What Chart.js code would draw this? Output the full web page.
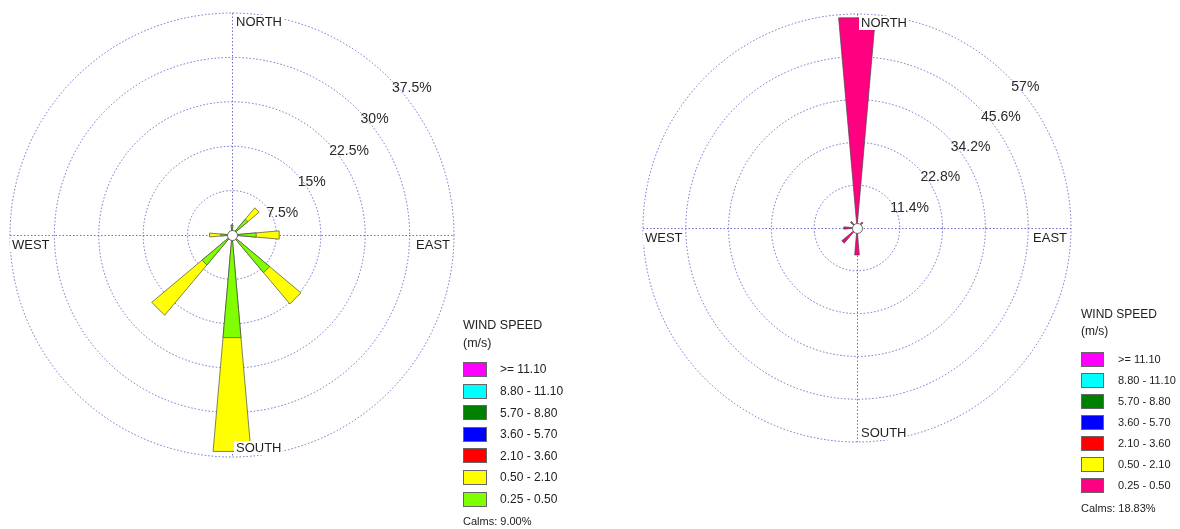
<!DOCTYPE html>
<html>
<head>
<meta charset="utf-8">
<script src="https://cdn.jsdelivr.net/npm/chart.js@4.4.1/dist/chart.umd.min.js"></script>
<style>
  body { margin: 0; width: 1180px; height: 529px; background: #fff; position: relative; overflow: hidden;
         font-family: "Liberation Sans", Arial, sans-serif; color: #222; }
  .rose { position: absolute; }
  .lg { position: absolute; white-space: nowrap; }
  .swatch { position: absolute; box-sizing: border-box; border: 1px solid #666; }
</style>
</head>
<body>
<div class="rose" style="left:0;top:0;width:470px;height:470px"><canvas id="leftRose"></canvas></div>
<div class="rose" style="left:620px;top:0;width:470px;height:460px"><canvas id="rightRose"></canvas></div>
<div id="legends"></div>
<script>
const directions = ['N', 'NNE', 'NE', 'ENE', 'E', 'ESE', 'SE', 'SSE', 'S', 'SSW', 'SW', 'WSW', 'W', 'WNW', 'NW', 'NNW'];
const speedClasses = ['>= 11.10', '8.80 - 11.10', '5.70 - 8.80', '3.60 - 5.70', '2.10 - 3.60', '0.50 - 2.10', '0.25 - 0.50'];
const leftClassColors = ['#ff00ff', '#00ffff', '#008000', '#0000ff', '#ff0000', '#ffff00', '#80ff00'];
const rightClassColors = ['#ff00ff', '#00ffff', '#008000', '#0000ff', '#ff0000', '#ffff00', '#ff0080'];

// frequency in % per direction (only the classes that have data)
const leftSpeed025 = [1.7, 0, 3.5, 0, 4.1, 0, 8.3, 0, 17.4, 0, 6.6, 0, 1.9, 0, 0, 0];
const leftSpeed050 = [0, 0, 2.5, 0, 3.9, 0, 6.9, 0, 19.3, 0, 11.1, 0, 1.9, 0, 0, 0];
const rightSpeed025 = [56.2, 0, 2.1, 0, 0, 0, 0, 0, 7.2, 0, 5.3, 0, 3.5, 0, 2.3, 0];

const leftCalms = 'Calms: 9.00%';
const rightCalms = 'Calms: 18.83%';

const leftTicks = [7.5, 15, 22.5, 30, 37.5];
const leftTickLabels = ['7.5%', '15%', '22.5%', '30%', '37.5%'];
const rightTicks = [11.4, 22.8, 34.2, 45.6, 57];
const rightTickLabels = ['11.4%', '22.8%', '34.2%', '45.6%', '57%'];

const compassLabels = ['NORTH', 'EAST', 'SOUTH', 'WEST'];

const petalAngle = 10;
const gapAngle = 12.5;
const gridColor = '#6c6cc8';

// stack the classes outward: each dataset holds the running total, with an empty slot between petals
const roseData = (classSeries) => {
  let running = directions.map(() => 0);
  return classSeries.map(series => {
    running = running.map((v, i) => v + series[i]);
    const out = [];
    running.forEach(v => { out.push(v); out.push(0); });
    return out;
  });
};

const slotLabels = [];
directions.forEach(d => { slotLabels.push(d); slotLabels.push(''); });

const roseDecor = {
  id: 'roseDecor',
  beforeDatasetsDraw(chart) {
    const s = chart.scales.r;
    const ctx = chart.ctx;
    const cx = s.xCenter, cy = s.yCenter, R = s.drawingArea;
    ctx.save();
    ctx.strokeStyle = gridColor;
    ctx.lineWidth = 1;
    ctx.setLineDash([1.5, 2]);
    ctx.beginPath();
    ctx.moveTo(cx - R, cy + 0.5); ctx.lineTo(cx + R, cy + 0.5);
    ctx.moveTo(cx + 0.5, cy - R); ctx.lineTo(cx + 0.5, cy + R);
    ctx.stroke();
    ctx.restore();
  },
  afterDatasetsDraw(chart, args, opts) {
    const s = chart.scales.r;
    const ctx = chart.ctx;
    const cx = s.xCenter, cy = s.yCenter, R = s.drawingArea;
    ctx.save();

    // calm circle
    ctx.beginPath();
    ctx.arc(cx + 0.5, cy + 0.5, 5, 0, Math.PI * 2);
    ctx.fillStyle = '#fff';
    ctx.fill();
    ctx.strokeStyle = '#666';
    ctx.lineWidth = 1;
    ctx.stroke();

    // compass names, with a white backdrop like the original
    ctx.font = '13px "Liberation Sans", Arial, sans-serif';
    ctx.textBaseline = 'middle';
    const spots = [
      { x: cx + 4, y: cy - R + 9, align: 'left' },
      { x: cx + R - 4, y: cy + 10, align: 'right' },
      { x: cx + 4, y: cy + R - 9, align: 'left' },
      { x: cx - R + 2, y: cy + 10, align: 'left' }
    ];
    compassLabels.forEach((name, i) => {
      const p = spots[i];
      const w = ctx.measureText(name).width;
      const x0 = p.align === 'left' ? p.x - 2 : p.x - w - 2;
      ctx.fillStyle = '#fff';
      ctx.fillRect(x0, p.y - 7, w + 3, 14);
      ctx.fillStyle = '#1e1e1e';
      ctx.textAlign = p.align;
      ctx.fillText(name, p.x, p.y);
    });

    // ring percentages on the north-east diagonal
    ctx.font = '14px "Liberation Sans", Arial, sans-serif';
    ctx.textAlign = 'left';
    ctx.textBaseline = 'top';
    ctx.fillStyle = '#2a2a2a';
    opts.ticks.forEach((v, i) => {
      const d = s.getDistanceFromCenterForValue(v);
      const x = cx + d * Math.SQRT1_2;
      const y = cy - d * Math.SQRT1_2;
      ctx.fillText(opts.labels[i], x + 3, y + 3);
    });
    ctx.restore();
  }
};

const makeRose = (id, classSeries, colors, max, step, padding, ticks, labels) => {
  const stacked = roseData(classSeries);
  const datasets = stacked.map((data, i) => ({
    data: data,
    backgroundColor: colors[i],
    borderColor: 'rgba(70,70,70,0.85)',
    borderWidth: (c) => c.dataIndex % 2 ? 0 : 0.8,
    angle: (c) => c.dataIndex % 2 ? gapAngle : petalAngle,
    circular: false,
    clip: false
  }));

  return new Chart(document.getElementById(id), {
    type: 'polarArea',
    data: { labels: slotLabels, datasets: datasets },
    options: {
      responsive: true,
      maintainAspectRatio: false,
      animation: false,
      layout: { padding: padding },
      plugins: {
        legend: { display: false },
        tooltip: { enabled: false },
        roseDecor: { ticks: ticks, labels: labels }
      },
      scales: {
        r: {
          min: 0,
          max: max,
          startAngle: -petalAngle / 2,
          ticks: { display: false, stepSize: step },
          grid: { color: gridColor, lineWidth: 1 },
          border: { dash: [1.5, 2] },
          angleLines: { display: false },
          pointLabels: { display: false }
        }
      }
    },
    plugins: [roseDecor]
  });
};

// lowest class first so it ends up drawn on top, nearest the centre
makeRose('leftRose', [leftSpeed025, leftSpeed050], [leftClassColors[6], leftClassColors[5]],
  37.5, 7.5, { left: 10, top: 13, right: 16, bottom: 13 }, leftTicks, leftTickLabels);
makeRose('rightRose', [rightSpeed025], [rightClassColors[6]],
  57, 11.4, { left: 23, top: 14, right: 19, bottom: 18 }, rightTicks, rightTickLabels);

const legendHost = document.getElementById('legends');

const addText = (text, x, yMid, size) => {
  const el = document.createElement('div');
  el.className = 'lg';
  el.textContent = text;
  el.style.left = x + 'px';
  el.style.top = (yMid - 0.59 * size) + 'px';
  el.style.fontSize = size + 'px';
  el.style.lineHeight = (1.2 * size) + 'px';
  legendHost.appendChild(el);
};

const buildLegend = (cfg) => {
  addText('WIND SPEED', cfg.x, cfg.titleY, cfg.titleSize);
  addText('(m/s)', cfg.x, cfg.titleY + cfg.unitGap, cfg.titleSize);
  speedClasses.forEach((name, i) => {
    const top = cfg.boxTop + i * cfg.pitch;
    const box = document.createElement('div');
    box.className = 'swatch';
    box.style.left = cfg.x + 'px';
    box.style.top = top + 'px';
    box.style.width = cfg.boxW + 'px';
    box.style.height = '15px';
    box.style.background = cfg.colors[i];
    legendHost.appendChild(box);
    addText(name, cfg.textX, top + 7.5, cfg.size);
  });
  addText(cfg.calms, cfg.x, cfg.calmsY, 11);
};

buildLegend({ x: 463, textX: 500, titleY: 325, unitGap: 18, titleSize: 12.5, boxTop: 362, pitch: 21.6,
  boxW: 24, size: 12, colors: leftClassColors, calms: leftCalms, calmsY: 521 });
buildLegend({ x: 1081, textX: 1118, titleY: 314, unitGap: 17, titleSize: 12, boxTop: 352, pitch: 21,
  boxW: 23, size: 11, colors: rightClassColors, calms: rightCalms, calmsY: 508 });
</script>
</body>
</html>
